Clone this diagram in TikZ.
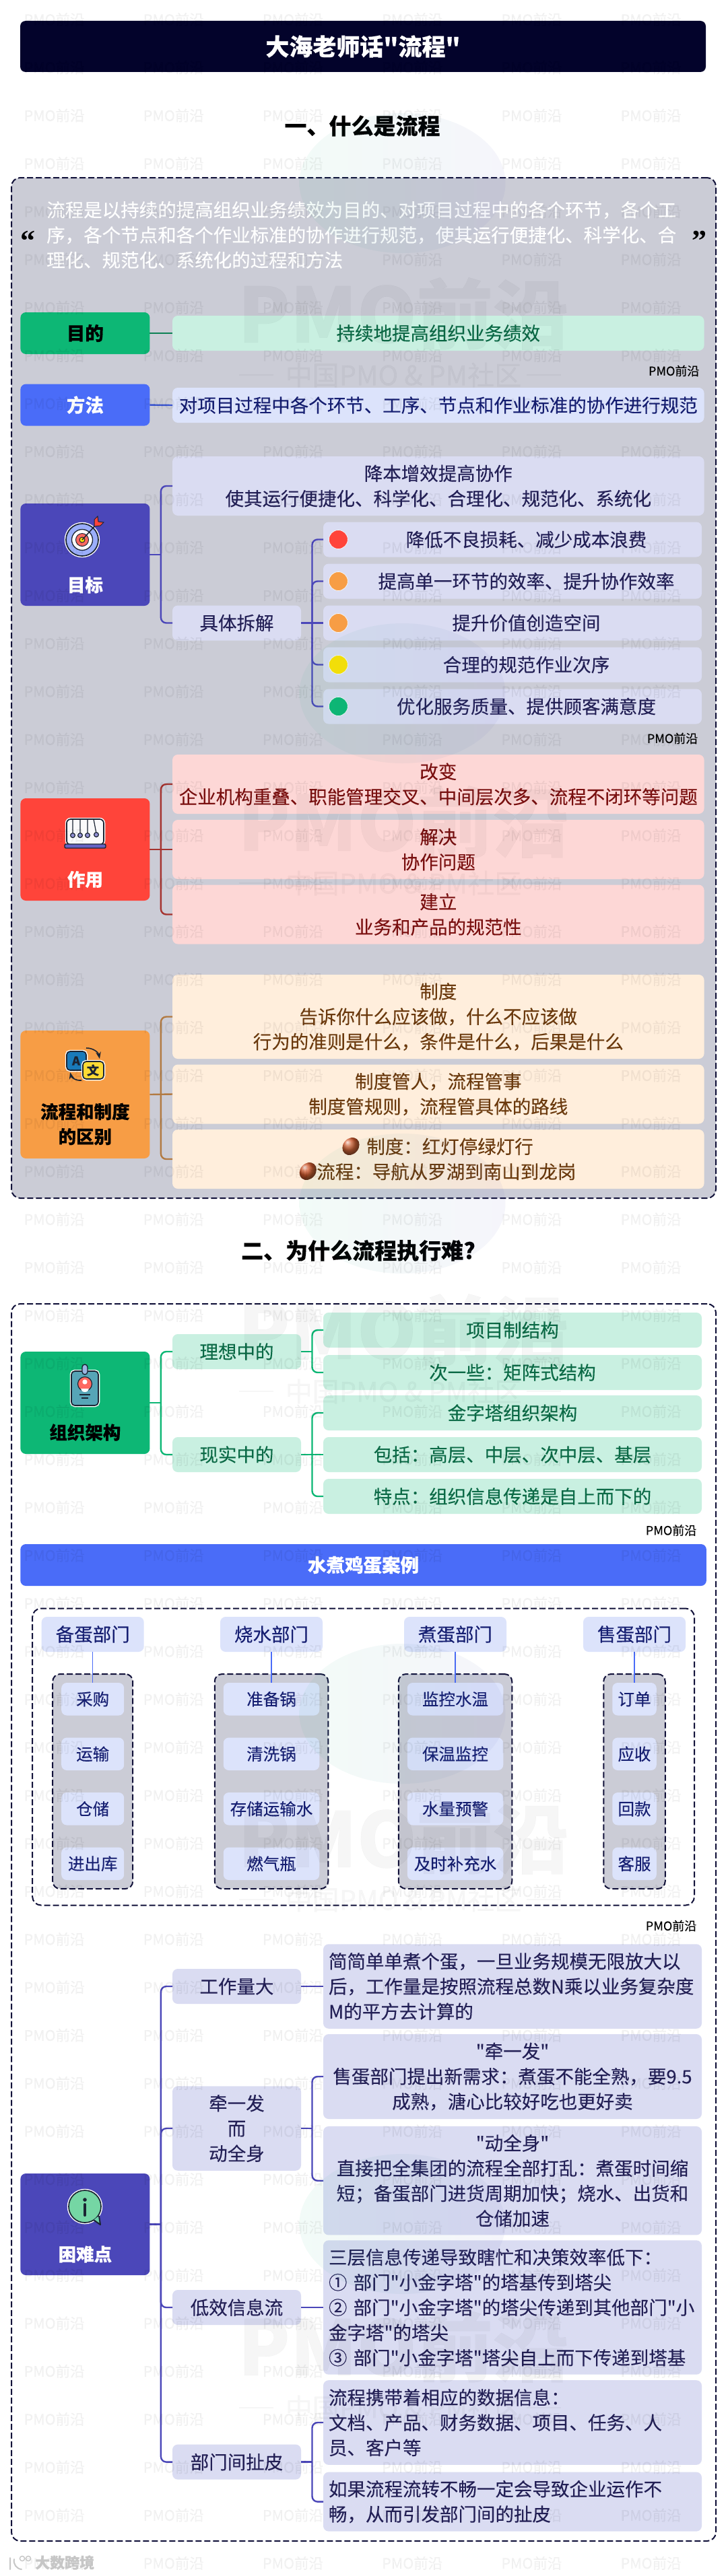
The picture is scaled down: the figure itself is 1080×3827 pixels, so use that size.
\documentclass[tikz,border=0pt]{standalone}
\usepackage{fontspec}
\newfontfamily\cjkmain{Noto Sans CJK SC}[FakeBold=0.2]
\newfontfamily\quotefont{Liberation Serif}
\usetikzlibrary{positioning, arrows.meta, fit, backgrounds, shapes.geometric}
\definecolor{navy_bar}{HTML}{03032B}
\definecolor{panel_gray}{HTML}{CBCCD6}
\definecolor{ink_dash}{HTML}{12123A}
\definecolor{green_head}{HTML}{0DB775}
\definecolor{green_leaf}{HTML}{C9F0E1}
\definecolor{green_ink}{HTML}{0B6A46}
\definecolor{blue_head}{HTML}{4A6CF8}
\definecolor{blue_leaf}{HTML}{DCE3FB}
\definecolor{blue_ink}{HTML}{161F72}
\definecolor{purple_head}{HTML}{4B47B9}
\definecolor{purple_leaf}{HTML}{DADCF2}
\definecolor{purple_ink}{HTML}{232056}
\definecolor{red_head}{HTML}{FF443A}
\definecolor{red_leaf}{HTML}{FDD7D6}
\definecolor{red_ink}{HTML}{7A1010}
\definecolor{red_link}{HTML}{A5332F}
\definecolor{orange_head}{HTML}{F79D45}
\definecolor{orange_leaf}{HTML}{FFEEDC}
\definecolor{orange_ink}{HTML}{6B3A0E}
\definecolor{orange_link}{HTML}{B27A42}
\definecolor{icon_ink}{HTML}{1B2433}

\begin{document}
\begin{tikzpicture}[
    x=1pt, y=-1pt,
    font=\cjkmain\fontsize{27.5}{37.3}\selectfont,
    node distance=10pt and 33pt,
    box/.style={
        rounded corners=8pt,
        align=center,
        inner xsep=8pt,
        inner ysep=0pt,
        outer sep=0pt
    },
    root/.style={box, text width=176pt, minimum height=62pt},
    wide/.style={box, text width=773.5pt, minimum height=88pt},
    mid/.style={box, text width=175pt, minimum height=52pt},
    leaf/.style={box, text width=546pt, minimum height=52pt},
    green_set/.style={fill=green_leaf, text=green_ink},
    blue_set/.style={fill=blue_leaf, text=blue_ink},
    purple_set/.style={fill=purple_leaf, text=purple_ink},
    red_set/.style={fill=red_leaf, text=red_ink},
    orange_set/.style={fill=orange_leaf, text=orange_ink},
    rootlabel/.style={font=\cjkmain\fontsize{26.5}{37}\selectfont\bfseries, align=center, inner sep=0pt},
    section/.style={font=\cjkmain\fontsize{33}{40}\selectfont\bfseries, inner sep=0pt},
    tag/.style={font=\cjkmain\fontsize{18}{20}\selectfont, anchor=east, inner sep=0pt},
    link/.style={line width=2.4pt, rounded corners=8pt},
    dot/.style={circle, draw=white!80!panel_gray, line width=0.8pt, minimum size=28pt, inner sep=0pt, anchor=west},
    panel/.style={draw=ink_dash, line width=2pt, dash pattern=on 9pt off 4pt, rounded corners=13pt, inner sep=0pt},
    head/.style={box, blue_set, minimum width=152pt, minimum height=52pt},
    cell/.style={box, blue_set, inner xsep=0pt, minimum height=48.5pt, font=\cjkmain\fontsize{24.5}{30}\selectfont},
    groupbox/.style={panel, fill=panel_gray, inner sep=13pt, rounded corners=11pt},
    nut/.style={ellipse, ball color=#1, minimum width=28pt, minimum height=23pt, inner sep=0pt, rotate=50},
    halo/.style={preaction={draw=white, line width=4.5pt}, draw=icon_ink, line width=1.7pt},
    wmark/.style={font=\cjkmain\fontsize{21.5}{24}\selectfont, text=black, opacity=0.05, inner sep=0pt},
    bigmark/.style={font=\cjkmain\fontsize{113}{120}\selectfont\bfseries, text=black, opacity=0.035, inner sep=0pt},
    submark/.style={font=\cjkmain\fontsize{40}{44}\selectfont, text=black, opacity=0.035, inner sep=0pt}
]
\useasboundingbox (0,0) rectangle (1080,3827);
\begin{scope}[on background layer]
    \fill[white] (0,0) rectangle (1080,3827);
\end{scope}

% first part
\node[box, fill=navy_bar, text=white, minimum width=1018pt, minimum height=76pt, font=\cjkmain\fontsize{35}{40}\selectfont\bfseries] (title) at (539,69) {大海老师话"流程"};
\node[section] (part-one) at (538,187) {一、什么是流程};
\node[panel, fill=panel_gray, minimum width=1046pt, minimum height=1516pt] (panel-one) at (540,1022) {};

\node[align=left, text=white, text width=938pt, inner sep=0pt, anchor=west] (quote-text) at (69,349) {流程是以持续的提高组织业务绩效为目的、对项目过程中的各个环节，各个工\\序，各个节点和各个作业标准的协作进行规范，使其运行便捷化、科学化、合\\理化、规范化、系统化的过程和方法};
\node[font=\fontsize{44}{44}\selectfont\quotefont\bfseries, inner sep=0pt] (quote-open) at (41,358) {“};
\node[font=\fontsize{44}{44}\selectfont\quotefont\bfseries, inner sep=0pt] (quote-close) at (1038,358) {”};

\node[root, fill=green_head] (aim) at (126.4,495) {\bfseries 目的};
\node[wide, green_set, minimum height=52pt] (aim-text) at (650.8,495) {持续地提高组织业务绩效};
\draw[link, green_ink!70!green_head] (aim.east) -- (aim-text.west);
\node[tag] (tag-a) at (1038.6,551) {PMO前沿};

\node[root, fill=blue_head, text=white] (method) at (126.4,601.6) {\bfseries 方法};
\node[wide, blue_set, minimum height=52pt] (method-text) at (650.8,602) {对项目过程中各个环节、工序、节点和作业标准的协作进行规范};
\draw[link, blue_head!70!blue_ink] (method.east) -- (method-text.west);

\node[root, fill=purple_head, minimum height=152pt] (goal) at (126.4,824) {};
\node[rootlabel, text=white] (goal-label) at (126.4,869) {目标};
\coordinate[right=16.5pt of goal.east] (goal-fork);
\node[wide, purple_set] (goal-a) at (650.8,722) {降本增效提高协作\\使其运行便捷化、科学化、合理化、规范化、系统化};
\node[mid, purple_set] (goal-b) at (351.5,925.5) {具体拆解};
\draw[link, purple_head] (goal.east) -- (goal-fork);
\draw[link, purple_head] (goal-fork) |- (goal-a.west);
\draw[link, purple_head] (goal-fork) |- (goal-b.west);

\node[leaf, purple_set, right=of goal-b] (step-c) {\hspace*{41pt}提升价值创造空间};
\node[leaf, purple_set, above=of step-c] (step-b) {\hspace*{41pt}提高单一环节的效率、提升协作效率};
\node[leaf, purple_set, above=of step-b] (step-a) {\hspace*{41pt}降低不良损耗、减少成本浪费};
\node[leaf, purple_set, below=of step-c] (step-d) {\hspace*{41pt}合理的规范作业次序};
\node[leaf, purple_set, below=of step-d] (step-e) {\hspace*{41pt}优化服务质量、提供顾客满意度};
\coordinate[right=16.5pt of goal-b.east] (step-fork);
\draw[link, purple_head] (goal-b.east) -- (step-fork);
\draw[link, purple_head] (step-fork) |- (step-a.west);
\draw[link, purple_head] (step-fork) |- (step-b.west);
\draw[link, purple_head] (step-fork) -- (step-c.west);
\draw[link, purple_head] (step-fork) |- (step-d.west);
\draw[link, purple_head] (step-fork) |- (step-e.west);
\node[dot, fill=red_head, right=8pt of step-a.west] (dot-a) {};
\node[dot, fill=orange_head, right=8pt of step-b.west] (dot-b) {};
\node[dot, fill=orange_head, right=8pt of step-c.west] (dot-c) {};
\node[dot, fill=yellow!85!orange, right=8pt of step-d.west] (dot-d) {};
\node[dot, fill=green_head, right=8pt of step-e.west] (dot-e) {};
\node[tag] (tag-b) at (1036.5,1097) {PMO前沿};

\node[root, fill=red_head, minimum height=152pt] (effect) at (126.4,1262) {};
\node[rootlabel, text=white] (effect-label) at (126.4,1306.5) {作用};
\coordinate[right=16.5pt of effect.east] (effect-fork);
\node[wide, red_set] (effect-a) at (650.8,1165) {改变\\企业机构重叠、职能管理交叉、中间层次多、流程不闭环等问题};
\node[wide, red_set] (effect-b) at (650.8,1262) {解决\\协作问题};
\node[wide, red_set] (effect-c) at (650.8,1358.5) {建立\\业务和产品的规范性};
\draw[link, red_link] (effect.east) -- (effect-b.west);
\draw[link, red_link] (effect-fork) |- (effect-a.west);
\draw[link, red_link] (effect-fork) |- (effect-c.west);

\node[root, fill=orange_head, minimum height=190pt] (rule) at (126.4,1626) {};
\node[rootlabel] (rule-label) at (126.4,1670) {流程和制度\\的区别};
\coordinate[right=16.5pt of rule.east] (rule-fork);
\node[wide, orange_set, minimum height=125pt] (rule-a) at (650.8,1510.5) {制度\\告诉你什么应该做，什么不应该做\\行为的准则是什么，条件是什么，后果是什么};
\node[wide, orange_set] (rule-b) at (650.8,1625.5) {制度管人，流程管事\\制度管规则，流程管具体的路线};
\node[wide, orange_set] (rule-c) at (650.8,1722) {\hspace*{34.5pt}制度：红灯停绿灯行\\\hspace*{24pt}流程：导航从罗湖到南山到龙岗};
\draw[link, orange_link] (rule.east) -- (rule-b.west);
\draw[link, orange_link] (rule-fork) |- (rule-a.west);
\draw[link, orange_link] (rule-fork) |- (rule-c.west);
\node[nut=brown!70!red] (nut-a) at (521,1703) {};
\node[nut=brown!70!red] (nut-b) at (457.3,1740) {};

% second part
\node[section] (part-two) at (532,1858) {二、为什么流程执行难?};
\node[panel, minimum width=1046pt, minimum height=1838pt] (panel-two) at (540,2856) {};

\node[root, fill=green_head, minimum height=152pt] (org) at (126.4,2084) {};
\node[rootlabel] (org-label) at (126.4,2128) {组织架构};
\coordinate[right=16.5pt of org.east] (org-fork);
\node[mid, green_set] (org-a) at (351.5,2008) {理想中的};
\node[mid, green_set] (org-b) at (351.5,2161) {现实中的};
\draw[link, green_head] (org.east) -- (org-fork);
\draw[link, green_head] (org-fork) |- (org-a.west);
\draw[link, green_head] (org-fork) |- (org-b.west);

\node[leaf, green_set] (ideal-a) at (761,1976) {项目制结构};
\node[leaf, green_set] (ideal-b) at (761,2039) {次一些：矩阵式结构};
\coordinate[right=16.5pt of org-a.east] (ideal-fork);
\draw[link, green_head] (org-a.east) -- (ideal-fork);
\draw[link, green_head] (ideal-fork) |- (ideal-a.west);
\draw[link, green_head] (ideal-fork) |- (ideal-b.west);

\node[leaf, green_set, right=of org-b] (real-b) {包括：高层、中层、次中层、基层};
\node[leaf, green_set, above=of real-b] (real-a) {金字塔组织架构};
\node[leaf, green_set, below=of real-b] (real-c) {特点：组织信息传递是自上而下的};
\coordinate[right=16.5pt of org-b.east] (real-fork);
\draw[link, green_head] (org-b.east) -- (real-b.west);
\draw[link, green_head] (real-fork) |- (real-a.west);
\draw[link, green_head] (real-fork) |- (real-c.west);
\node[tag] (tag-c) at (1034.5,2273.5) {PMO前沿};

\node[box, fill=blue_head, text=white, minimum width=1018.6pt, minimum height=62pt] (case) at (539.6,2325) {\bfseries 水煮鸡蛋案例};
\node[panel, minimum width=983pt, minimum height=441pt] (case-box) at (539.6,2610) {};

\node[head] (prep) at (137.7,2428) {备蛋部门};
\node[head] (boil) at (403,2428) {烧水部门};
\node[head] (cook) at (676,2428) {煮蛋部门};
\node[head] (sell) at (942,2428) {售蛋部门};

\node[cell, minimum width=93pt, below=46pt of prep] (prep-a) {采购};
\node[cell, minimum width=93pt, below=33pt of prep-a] (prep-b) {运输};
\node[cell, minimum width=93pt, below=33pt of prep-b] (prep-c) {仓储};
\node[cell, minimum width=93pt, below=33pt of prep-c] (prep-d) {进出库};
\node[cell, minimum width=142.5pt, below=46pt of boil] (boil-a) {准备锅};
\node[cell, minimum width=142.5pt, below=33pt of boil-a] (boil-b) {清洗锅};
\node[cell, minimum width=142.5pt, below=33pt of boil-b] (boil-c) {存储运输水};
\node[cell, minimum width=142.5pt, below=33pt of boil-c] (boil-d) {燃气瓶};
\node[cell, minimum width=142.5pt, below=46pt of cook] (cook-a) {监控水温};
\node[cell, minimum width=142.5pt, below=33pt of cook-a] (cook-b) {保温监控};
\node[cell, minimum width=142.5pt, below=33pt of cook-b] (cook-c) {水量预警};
\node[cell, minimum width=142.5pt, below=33pt of cook-c] (cook-d) {及时补充水};
\node[cell, minimum width=65.5pt, below=46pt of sell] (sell-a) {订单};
\node[cell, minimum width=65.5pt, below=33pt of sell-a] (sell-b) {应收};
\node[cell, minimum width=65.5pt, below=33pt of sell-b] (sell-c) {回款};
\node[cell, minimum width=65.5pt, below=33pt of sell-c] (sell-d) {客服};

\begin{scope}[on background layer]
    \node[groupbox, fit=(prep-a)(prep-d)] (prep-group) {};
    \node[groupbox, fit=(boil-a)(boil-d)] (boil-group) {};
    \node[groupbox, fit=(cook-a)(cook-d)] (cook-group) {};
    \node[groupbox, fit=(sell-a)(sell-d)] (sell-group) {};
\end{scope}
\draw[blue_head, line width=1.5pt] (prep) -- (prep-a);
\draw[blue_head, line width=1.5pt] (boil) -- (boil-a);
\draw[blue_head, line width=1.5pt] (cook) -- (cook-a);
\draw[blue_head, line width=1.5pt] (sell) -- (sell-a);
\node[tag] (tag-d) at (1034.5,2861) {PMO前沿};

\node[root, fill=purple_head, minimum height=151pt] (hard) at (126.4,3304.5) {};
\node[rootlabel, text=white] (hard-label) at (126.4,3349) {困难点};
\coordinate[right=16.5pt of hard.east] (hard-fork);
\node[mid, purple_set] (hard-a) at (351.5,2951) {工作量大};
\node[mid, purple_set, minimum height=125.5pt] (hard-b) at (351.5,3162) {牵一发\\而\\动全身};
\node[mid, purple_set] (hard-c) at (351.5,3428) {低效信息流};
\node[mid, purple_set] (hard-d) at (351.5,3657.6) {部门间扯皮};
\draw[link, purple_head] (hard.east) -- (hard-fork);
\draw[link, purple_head] (hard-fork) |- (hard-a.west);
\draw[link, purple_head] (hard-fork) |- (hard-b.west);
\draw[link, purple_head] (hard-fork) |- (hard-c.west);
\draw[link, purple_head] (hard-fork) |- (hard-d.west);

\node[leaf, purple_set, align=left, minimum height=125.5pt, right=of hard-a] (load-a) {简简单单煮个蛋，一旦业务规模无限放大以\\后，工作量是按照流程总数N乘以业务复杂度\\M的平方去计算的};
\draw[link, purple_head] (hard-a.east) -- (load-a.west);

\node[leaf, purple_set, minimum height=126pt] (pull-a) at (761,3085) {"牵一发"\\售蛋部门提出新需求：煮蛋不能全熟，要9.5\\成熟，溏心比较好吃也更好卖};
\node[leaf, purple_set, minimum height=161.5pt] (pull-b) at (761,3239.7) {"动全身"\\直接把全集团的流程全部打乱：煮蛋时间缩\\短；备蛋部门进货周期加快；烧水、出货和\\仓储加速};
\coordinate[right=16.5pt of hard-b.east] (pull-fork);
\draw[link, purple_head] (hard-b.east) -- (pull-fork);
\draw[link, purple_head] (pull-fork) |- (pull-a.west);
\draw[link, purple_head] (pull-fork) |- (pull-b.west);

\node[leaf, purple_set, align=left, minimum height=199.4pt, right=of hard-c] (flow-a) {三层信息传递导致瞎忙和决策效率低下：\\① 部门"小金字塔"的塔基传到塔尖\\② 部门"小金字塔"的塔尖传递到其他部门"小\\金字塔"的塔尖\\③ 部门"小金字塔"塔尖自上而下传递到塔基};
\draw[link, purple_head] (hard-c.east) -- (flow-a.west);

\node[leaf, purple_set, align=left, minimum height=125.7pt] (blame-a) at (761,3599) {流程携带着相应的数据信息：\\文档、产品、财务数据、项目、任务、人\\员、客户等};
\node[leaf, purple_set, align=left, minimum height=88pt] (blame-b) at (761,3716.6) {如果流程流转不畅一定会导致企业运作不\\畅，从而引发部门间的扯皮};
\coordinate[right=16.5pt of hard-d.east] (blame-fork);
\draw[link, purple_head] (hard-d.east) -- (blame-fork);
\draw[link, purple_head] (blame-fork) |- (blame-a.west);
\draw[link, purple_head] (blame-fork) |- (blame-b.west);

% icons
\begin{scope}[shift={(122,802)}]
    \fill[halo, fill=blue_head!55!white] (0,0) circle (24);
    \fill[draw=icon_ink, line width=1.3pt, fill=white] (0,0) circle (15.5);
    \fill[fill=red_head!80!white, draw=icon_ink, line width=1pt] (0,0) circle (9.5);
    \fill[yellow!80!orange, draw=icon_ink, line width=1pt] (0,0) circle (4);
    \draw[icon_ink, line width=1.5pt] (0,0) -- (20,-22);
    \fill[red_head, draw=icon_ink, line width=1pt] (18,-20) -- (18,-30) -- (23,-35) -- (24,-27) -- (32,-26) -- (27,-21) -- cycle;
\end{scope}
\begin{scope}[shift={(127,1237)}]
    \draw[halo, fill=white!90!panel_gray, rounded corners=6pt] (-28,18) -- (-28,-20) -- (27,-20) -- (27,18) -- cycle;
    \fill[purple_head!85!white, draw=icon_ink, line width=1.4pt, rounded corners=2pt] (-31,17) rectangle (30,23);
    \draw[icon_ink, line width=1.2pt] (-19,-20) -- (-19,1) (-8,-20) -- (-8,1) (3,-20) -- (3,1) (12,-20) -- (16,1);
    \fill[purple_head!60!white, draw=icon_ink, line width=1.2pt] (-19,4) circle (3.4);
    \fill[purple_head!60!white, draw=icon_ink, line width=1.2pt] (-8,4) circle (3.4);
    \fill[purple_head!60!white, draw=icon_ink, line width=1.2pt] (3,4) circle (3.4);
    \fill[purple_head!60!white, draw=icon_ink, line width=1.2pt] (16,3) circle (3.4);
\end{scope}
\begin{scope}[shift={(127,1583)}]
    \draw[halo, fill=blue!40!cyan!70!black!90, rounded corners=5pt] (-28,-21) rectangle (1,7);
    \draw[halo, fill=yellow!70!orange!80!white, rounded corners=5pt] (-4,-6) rectangle (27,20);
    \node[font=\cjkmain\fontsize{18}{18}\selectfont\bfseries, text=icon_ink, inner sep=0pt] (icon-a) at (-14,-7) {A};
    \node[font=\cjkmain\fontsize{18}{18}\selectfont\bfseries, text=icon_ink, inner sep=0pt] (icon-wen) at (11,7) {文};
    \draw[-{Stealth}, icon_ink, line width=1.6pt] (1,-26) to[bend left=40] (21,-10);
    \draw[-{Stealth}, icon_ink, line width=1.6pt] (-6,22) to[bend left=40] (-23,10);
\end{scope}
\begin{scope}[shift={(126,2062)}]
    \draw[halo, fill=blue_head!30!cyan!60!black!70!white, rounded corners=5pt] (-20,-25) rectangle (20,26);
    \draw[icon_ink, line width=1.4pt, fill=cyan!30!blue_head!50!white, rounded corners=4pt] (-4,-35) rectangle (4,-20);
    \fill[red_head!80!white, draw=icon_ink, line width=1.2pt] (0,-6) circle (10.5);
    \fill[white] (0,-9) circle (3.6);
    \fill[white] (-6,1) arc[start angle=180, end angle=360, x radius=6, y radius=-5] -- cycle;
    \draw[icon_ink, line width=1.2pt] (-8,10) -- (8,10) (-5,15) -- (5,15);
\end{scope}
\begin{scope}[shift={(126,3278)}]
    \draw[halo, fill=green_head!60!white!95!yellow] (0,0) circle (24);
    \draw[icon_ink, line width=2pt, line join=round, fill=green_head!60!white] (13,20) -- (23,27) -- (21,14);
    \fill[icon_ink] (0,-10) circle (2.8);
    \draw[icon_ink, line width=4pt, line cap=round] (0,-3) -- (0,13);
\end{scope}

% watermark
\foreach \wy in {0,...,53} {
    \foreach \wx in {0,...,5} {
        \node[wmark] (wm-\wx-\wy) at ({80.6+177.2*\wx},{29+71.3*\wy}) {PMO前沿};
    }
}
\foreach \my in {466,1221,1976,2731,3486} {
    \node[bigmark] (big-\my) at (599,\my) {PMO前沿};
    \node[submark] (sub-\my) at (599,\my+91) {中国PMO \& PM社区};
    \draw[black, opacity=0.035, line width=2pt] (355,\my+91) -- (406,\my+91) (782,\my+91) -- (833,\my+91);
}
\foreach \ly in {272,1030,1788,2546,3304} {
    \shade[left color=green_head, right color=purple_head, opacity=0.05] (597.5,\ly) ellipse (153 and 104);
}

% footer
\draw[gray!45, line width=2pt, line cap=round] (15,3800) -- (15,3817) (21,3802) to[bend right=50] (32,3817);
\draw[gray!45, line width=1.4pt] (33,3801) circle (3.6) (42,3801) circle (3.6);
\node[font=\cjkmain\fontsize{22}{24}\selectfont\bfseries, text=gray!45, inner sep=0pt, anchor=west] (footer) at (52,3807) {大数跨境};

\end{tikzpicture}
\end{document}
